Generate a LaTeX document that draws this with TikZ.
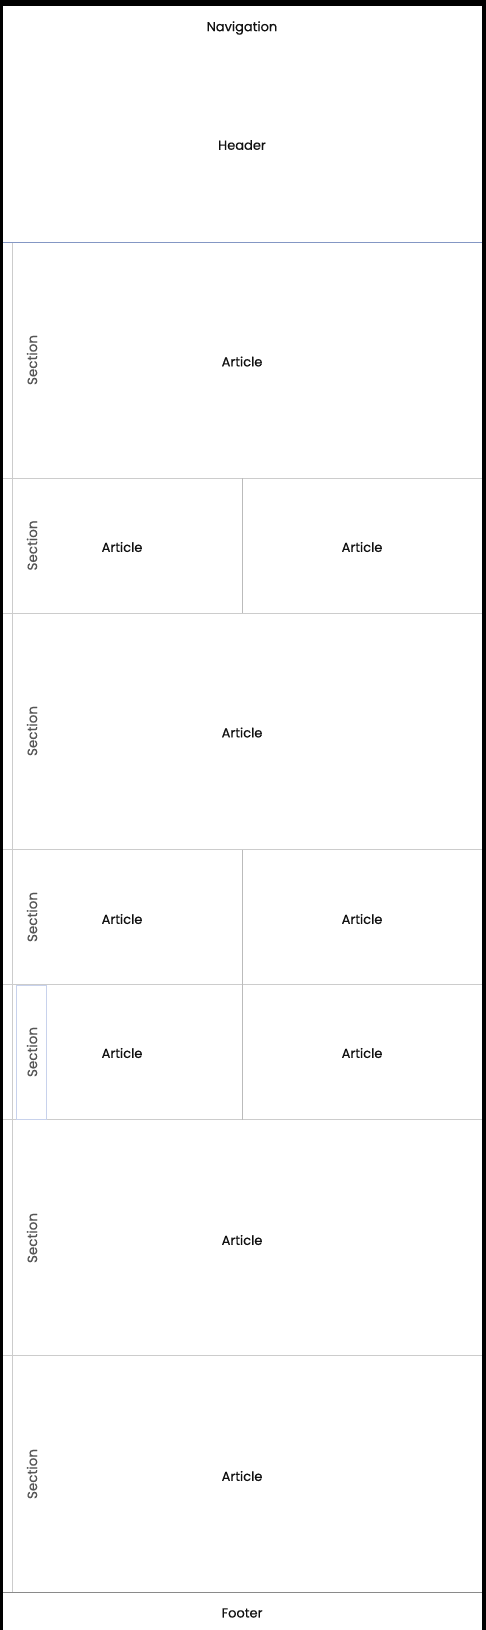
\documentclass[tikz,border=0pt]{standalone}
\usepackage{fontspec}
\setmainfont{Poppins}
\newfontfamily\medfont{Poppins}[FakeBold=0.45]
\definecolor{sepgray}{HTML}{CCCCCC}
\definecolor{divgray}{HTML}{BBBBBB}
\definecolor{headline}{HTML}{8497C4}
\definecolor{footline}{HTML}{8A8A8A}
\definecolor{secgray}{HTML}{555555}
\definecolor{secbox}{HTML}{C8D2EC}
\definecolor{txt}{HTML}{111111}
\tikzset{
  lbl/.style={font=\medfont\fontsize{13}{15}\selectfont, text=txt, inner sep=0pt},
  seclbl/.style={font=\medfont\fontsize{13.5}{15}\selectfont, text=secgray, rotate=90, inner sep=0pt},
  sepline/.style={draw=sepgray, line width=1pt},
  divline/.style={draw=divgray, line width=1pt},
}
\begin{document}
\begin{tikzpicture}[x=1pt,y=-1pt]
\useasboundingbox (0,0) rectangle (486,1630);
\fill[black] (0,0) rectangle (486,1630);
\fill[white] (3,6) rectangle (482,1630);
% row boundaries
\draw[sepline] (3,478) -- (482,478);
\draw[sepline] (3,613) -- (482,613);
\draw[sepline] (3,849.5) -- (482,849.5);
\draw[sepline] (3,984.5) -- (482,984.5);
\draw[sepline] (3,1119.5) -- (482,1119.5);
\draw[sepline] (3,1355.5) -- (482,1355.5);
% article dividers
\draw[divline] (242,478) -- (242,613);
\draw[divline] (242,849.5) -- (242,984.5);
\draw[divline] (242,984.5) -- (242,1119.5);
% left section line
\draw[sepline] (12.5,242) -- (12.5,1592);
% section box
\draw[draw=secbox, line width=0.8pt] (16.5,985) rectangle (46,1119.5);
% header & footer lines
\draw[draw=headline, line width=1pt] (3,242) -- (482,242);
\draw[draw=footline, line width=1pt] (3,1592) -- (482,1592);
% texts
\node[lbl] (nav) at (242,28) {Navigation};
\node[lbl] (hdr) at (242,145) {Header};
\node[lbl] (ftr) at (242,1613) {Footer};
\node[seclbl] (s1) at (32,360) {Section};
\node[seclbl] (s2) at (32,545.5) {Section};
\node[seclbl] (s3) at (32,731) {Section};
\node[seclbl] (s4) at (32,917) {Section};
\node[seclbl] (s5) at (32,1052) {Section};
\node[seclbl] (s6) at (32,1238) {Section};
\node[seclbl] (s7) at (32,1474) {Section};
\node[lbl] (a1) at (242,361.5) {Article};
\node[lbl] (a2) at (122,547) {Article};
\node[lbl] (a3) at (362,547) {Article};
\node[lbl] (a4) at (242,732.5) {Article};
\node[lbl] (a5) at (122,919) {Article};
\node[lbl] (a6) at (362,919) {Article};
\node[lbl] (a7) at (122,1053) {Article};
\node[lbl] (a8) at (362,1053) {Article};
\node[lbl] (a9) at (242,1240) {Article};
\node[lbl] (a10) at (242,1476) {Article};
\end{tikzpicture}
\end{document}
